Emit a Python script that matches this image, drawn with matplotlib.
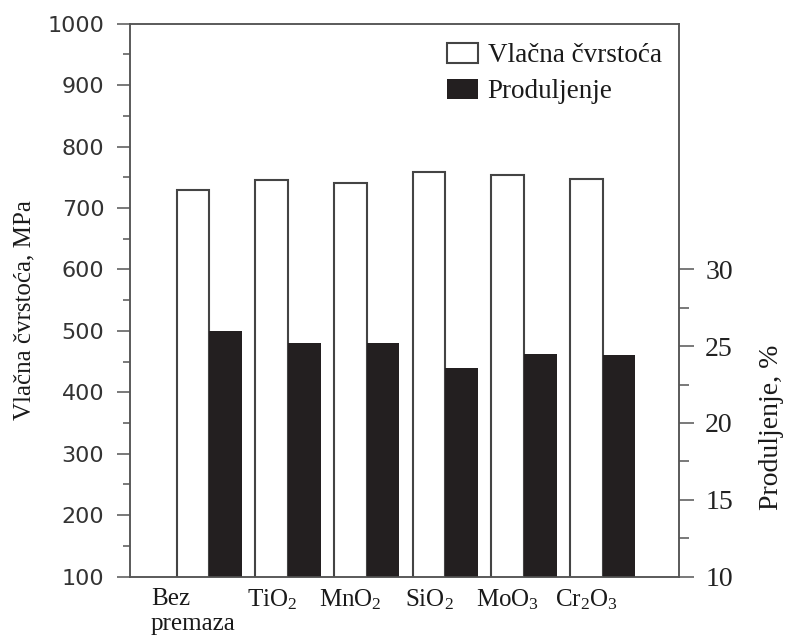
import numpy as np
import matplotlib
matplotlib.use("Agg")
import matplotlib.pyplot as plt
from matplotlib.patches import Patch

# data
coatings = ["Bez\npremaza", "TiO$_2$", "MnO$_2$", "SiO$_2$", "MoO$_3$", "Cr$_2$O$_3$"]
strength = [729, 745, 741, 758, 753, 748]        # Vlačna čvrstoća, MPa
elongation = [26.0, 25.2, 25.2, 23.6, 24.5, 24.4]  # Produljenje, %

plt.rcParams["mathtext.fontset"] = "custom"
plt.rcParams["mathtext.rm"] = "Liberation Serif"
plt.rcParams["mathtext.it"] = "Liberation Serif:italic"

serif = "Liberation Serif"
spine_col = "#555555"
ink = "#1a1a1a"

fig = plt.figure(figsize=(7.86, 6.41), dpi=100)
ax = fig.add_axes([0.1654, 0.1006, 0.6985, 0.8624])
ax2 = ax.twinx()

x = np.arange(len(coatings))
w = 0.415
ax.bar(x - w / 2, strength, width=w, color="white", edgecolor="#444444", linewidth=1.5, zorder=2)
ax2.bar(x + w / 2, elongation, width=w, color="#231f20", edgecolor="none", zorder=2)

ax.set_xlim(-1.01, 5.97)
ax.set_ylim(100, 1000)
ax2.set_ylim(10, 46)

ax.set_yticks(np.arange(100, 1001, 100))
ax.set_yticks(np.arange(150, 1000, 100), minor=True)
ax2.set_yticks([10, 15, 20, 25, 30])
ax2.set_yticks([12.5, 17.5, 22.5, 27.5], minor=True)

ax.set_xticks(x - w / 2)
ax.set_xticklabels(coatings, fontfamily=serif, fontsize=18, color=ink)
for lab in ax.get_xticklabels():
    lab.set_multialignment("left")
ax.tick_params(axis="x", length=0, pad=8)

ax.tick_params(axis="y", which="major", direction="out", length=9.5, width=1.1,
               color=spine_col, labelsize=16, labelcolor="#333333", pad=9)
ax.tick_params(axis="y", which="minor", direction="out", length=5, width=1.1, color=spine_col)
ax2.tick_params(axis="y", which="major", direction="out", length=10.8, width=1.1,
                color=spine_col, labelsize=20, labelcolor="#222222", pad=8)
ax2.tick_params(axis="y", which="minor", direction="out", length=7.2, width=1.1, color=spine_col)
for lab in ax2.get_yticklabels():
    lab.set_fontfamily(serif)

for a in (ax, ax2):
    for s in a.spines.values():
        s.set_color(spine_col)
        s.set_linewidth(1.1)

ax.set_ylabel("Vlačna čvrstoća, MPa", fontfamily=serif, fontsize=18, color=ink)
ax.yaxis.set_label_coords(-0.172, 0.482)
ax2.set_ylabel("Produljenje, %", fontfamily=serif, fontsize=20, color=ink, rotation=90)
ax2.yaxis.set_label_coords(1.145, 0.27)

handles = [Patch(facecolor="white", edgecolor="#444444", linewidth=1.5),
           Patch(facecolor="#231f20", edgecolor="none")]
leg = ax.legend(handles, ["Vlačna čvrstoća", "Produljenje"], loc="upper right",
                bbox_to_anchor=(0.993, 0.99), frameon=False, borderpad=0,
                handlelength=1.15, handleheight=0.75, handletextpad=0.35,
                labelspacing=0.4, prop={"family": serif, "size": 19.5})
for t in leg.get_texts():
    t.set_color(ink)

fig.savefig("out.png", dpi=100)
